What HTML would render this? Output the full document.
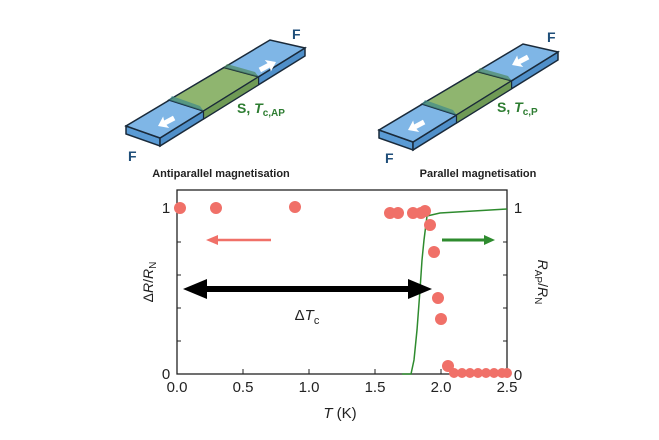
<!DOCTYPE html>
<html><head><meta charset="utf-8"><style>
html,body{margin:0;padding:0;background:#fff;}
svg{display:block;font-family:"Liberation Sans",sans-serif;}
</style></head><body>
<svg width="659" height="440" viewBox="0 0 659 440" xmlns="http://www.w3.org/2000/svg">
<defs>
<g id="dev">
  <!-- left end face -->
  <polygon points="126,126 160,138 160,146 126,134" fill="#5a9bd5" stroke="#1a2a3a" stroke-width="1.5"/>
  <!-- front face -->
  <polygon points="160,138 305,48 305,56 160,146" fill="#4f8fc9" stroke="#1a2a3a" stroke-width="1.5"/>
  <!-- top face -->
  <polygon points="126,126 160,138 305,48 270,40" fill="#7fb6e6" stroke="#1a2a3a" stroke-width="1.5"/>
  <!-- green S region -->
  <polygon points="169,100 203.5,111 258.6,76.8 224,67.5" fill="#8fb56f" stroke="#1a2a3a" stroke-width="1.5"/>
  <polygon points="203.5,111 258.6,76.8 258.6,84.8 203.5,119" fill="#6f9a55" stroke="#1a2a3a" stroke-width="1.2"/>
  <polygon points="169,100 203.5,111 200,106 172,96" fill="#3f8a8a" opacity="0.7"/>
  <polygon points="224,67.5 258.6,76.8 255,72 227,64" fill="#4f8a5f" opacity="0.7"/>
</g>
<g id="wa"><polygon points="0,0 9,-6 8,-2 18,-2 18,3 8,3 9,7" fill="#fff"/></g>
</defs>

<use href="#dev"/>
<use href="#dev" transform="translate(253,4)"/>
<!-- arrows AP -->
<g transform="translate(158,126) rotate(-28)"><use href="#wa"/></g>
<g transform="translate(276,62) rotate(152)"><use href="#wa"/></g>
<!-- arrows P -->
<g transform="translate(408,130) rotate(-28)"><use href="#wa"/></g>
<g transform="translate(512,65) rotate(-28)"><use href="#wa"/></g>

<g font-weight="bold" fill="#1f4e79" font-size="14">
<text x="128" y="161">F</text><text x="292" y="39">F</text>
<text x="385" y="163">F</text><text x="547" y="42">F</text>
</g>
<g font-weight="bold" fill="#2e7d32" font-size="14">
<text x="237" y="113">S, <tspan font-style="italic">T</tspan><tspan font-size="10" dy="3">c,AP</tspan></text>
<text x="497" y="112">S, <tspan font-style="italic">T</tspan><tspan font-size="10" dy="3">c,P</tspan></text>
</g>
<g font-weight="bold" fill="#222" font-size="11" text-anchor="middle">
<text x="221" y="177">Antiparallel magnetisation</text>
<text x="478" y="177">Parallel magnetisation</text>
</g>

<!-- plot frame -->
<rect x="177" y="190" width="330" height="184" fill="none" stroke="#222" stroke-width="1.3"/>
<g stroke="#222" stroke-width="1">
<line x1="243" y1="374" x2="243" y2="369"/><line x1="309" y1="374" x2="309" y2="369"/>
<line x1="375" y1="374" x2="375" y2="369"/><line x1="441" y1="374" x2="441" y2="369"/>
<line x1="177" y1="209" x2="182" y2="209"/><line x1="177" y1="242" x2="181" y2="242"/>
<line x1="177" y1="275" x2="181" y2="275"/><line x1="177" y1="308" x2="181" y2="308"/>
<line x1="177" y1="341" x2="181" y2="341"/>
<line x1="507" y1="209" x2="502" y2="209"/><line x1="507" y1="242" x2="503" y2="242"/>
<line x1="507" y1="275" x2="503" y2="275"/><line x1="507" y1="308" x2="503" y2="308"/>
<line x1="507" y1="341" x2="503" y2="341"/>
</g>
<g font-size="15" fill="#222">
<text x="166" y="213" text-anchor="middle">1</text>
<text x="166" y="379" text-anchor="middle">0</text>
<text x="518" y="213" text-anchor="middle">1</text>
<text x="518" y="380" text-anchor="middle">0</text>
<g text-anchor="middle">
<text x="177" y="392">0.0</text><text x="243" y="392">0.5</text><text x="309" y="392">1.0</text>
<text x="375" y="392">1.5</text><text x="441" y="392">2.0</text><text x="507" y="392">2.5</text>
<text x="340" y="418"><tspan font-style="italic">T</tspan> (K)</text>
<text x="307" y="320">Δ<tspan font-style="italic">T</tspan><tspan font-size="11" dy="4">c</tspan></text>
</g>
</g>
<text transform="translate(153,282) rotate(-90)" font-size="14" fill="#222" text-anchor="middle">Δ<tspan font-style="italic">R</tspan>/<tspan font-style="italic">R</tspan><tspan font-size="10" dy="3">N</tspan></text>
<text transform="translate(538,282) rotate(90)" font-size="14" fill="#222" text-anchor="middle"><tspan font-style="italic">R</tspan><tspan font-size="10" dy="3">AP</tspan><tspan dy="-3">/</tspan><tspan font-style="italic">R</tspan><tspan font-size="10" dy="3">N</tspan></text>

<!-- green curve -->
<polyline points="402,374 411,374 414,360 417,330 420,290 422,260 424,240 427,216 440,213 507,209" fill="none" stroke="#2e8b2e" stroke-width="1.5"/>
<!-- arrows -->
<line x1="215" y1="240" x2="271" y2="240" stroke="#f07068" stroke-width="2.5"/>
<polygon points="206,240 218,235 218,245" fill="#f07068"/>
<line x1="442" y1="240" x2="486" y2="240" stroke="#2e8b2e" stroke-width="3"/>
<polygon points="495,240 484,235 484,245" fill="#2e8b2e"/>
<!-- delta Tc arrow -->
<line x1="195" y1="289" x2="412" y2="289" stroke="#000" stroke-width="6"/>
<polygon points="183,289 207,279 207,299" fill="#000"/>
<polygon points="432,289 408,279 408,299" fill="#000"/>

<!-- data points -->
<g fill="#f07068">
<circle cx="180" cy="208" r="6"/><circle cx="216" cy="208" r="6"/><circle cx="295" cy="207" r="6"/>
<circle cx="390" cy="213" r="6"/><circle cx="398" cy="213" r="6"/>
<circle cx="413" cy="213" r="6"/><circle cx="421" cy="213" r="6"/><circle cx="425" cy="211" r="6"/>
<circle cx="430" cy="225" r="6"/><circle cx="434" cy="252" r="6"/>
<circle cx="438" cy="298" r="6"/><circle cx="441" cy="319" r="6"/>
<circle cx="448" cy="366" r="6"/>
<circle cx="454" cy="373" r="5"/><circle cx="462" cy="373" r="5"/><circle cx="470" cy="373" r="5"/>
<circle cx="478" cy="373" r="5"/><circle cx="486" cy="373" r="5"/><circle cx="494" cy="373" r="5"/>
<circle cx="502" cy="373" r="5"/><circle cx="507" cy="373" r="5"/>
</g>
</svg>
</body></html>
